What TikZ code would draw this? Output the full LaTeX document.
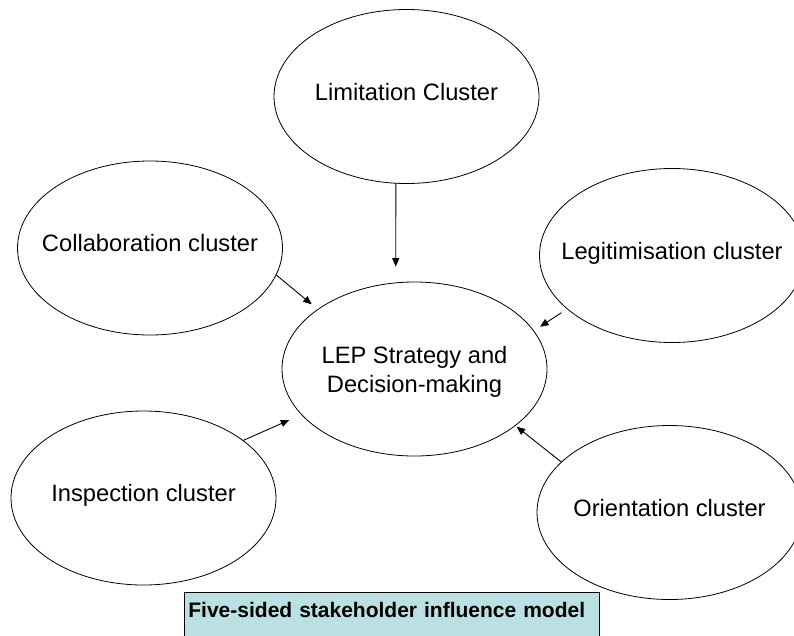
\documentclass[tikz,border=0pt]{standalone}
\usepackage{fontspec}
\setmainfont{Liberation Sans}
\usepackage{xcolor}
\usepackage{tikz}
\usetikzlibrary{arrows.meta,shapes.geometric}
\definecolor{SHInk}{HTML}{000000}
\definecolor{SHCaption}{HTML}{BBE0E3}
\tikzset{
  shcluster/.style={
    ellipse,
    draw=SHInk,
    line width=0.8pt,
    fill=white,
    inner sep=0pt,
    outer sep=0pt,
    minimum width=265pt,
    minimum height=174pt
  },
  shlabel/.style={font=\fontsize{23.7}{28.4}\selectfont,align=center,text=SHInk},
  shsingle/.style={shlabel,text height=0.72em,text depth=0pt},
  sharrow/.style={-{Triangle[length=8.5pt,width=7pt]},line width=0.9pt,draw=SHInk},
  shcaption/.style={
    rectangle,
    draw=SHInk,
    line width=0.8pt,
    fill=SHCaption,
    anchor=north west,
    align=left,
    font=\fontsize{21}{25}\bfseries,
    text width=407pt,
    inner xsep=4pt,
    inner ysep=9.7pt,
    text height=15.3pt,
    text depth=22pt
  },
}

\begin{document}
\begin{tikzpicture}[x=1pt,y=-1pt]
  \clip (0,0) rectangle (794,635);

  % the five clusters around the centre
  \node[shcluster,label={[shsingle]center:Limitation Cluster}] (limit) at (406.5,96.5) {};
  \node[shcluster,label={[shsingle]center:Collaboration cluster}] (collab) at (150,248) {};
  \node[shcluster,label={[shsingle]center:Legitimisation cluster}] (legit) at (672,255.5) {};
  \node[shcluster,label={[shsingle]center:Inspection cluster}] (inspect) at (143.5,498) {};
  \node[shcluster,label={[shsingle]center:Orientation cluster}] (orient) at (669.5,512.5) {};

  \node[shcluster,label={[shlabel,yshift=-3pt]center:{LEP Strategy and\\Decision-making}}] (lep)
    at (414.5,369) {};

  % arrow heads stop short of the centre
  \coordinate (limtip) at (395.7,266.7);
  \coordinate (coltip) at (311.7,304.3);
  \coordinate (legtip) at (540,326.7);
  \coordinate (instip) at (289.3,420);
  \coordinate (oritip) at (516.7,426.7);

  \foreach \src/\ang/\tip in {
    limit/263/limtip,collab/348/coltip,inspect/30/instip,orient/155.5/oritip}
    \draw[sharrow] (\src.\ang) -- (\tip);
  \draw[sharrow,shorten <=7pt] (legit.207) -- (legtip);

  \node[shcaption] (caption) at (184,592) {Five-sided stakeholder influence model};
\end{tikzpicture}
\end{document}
